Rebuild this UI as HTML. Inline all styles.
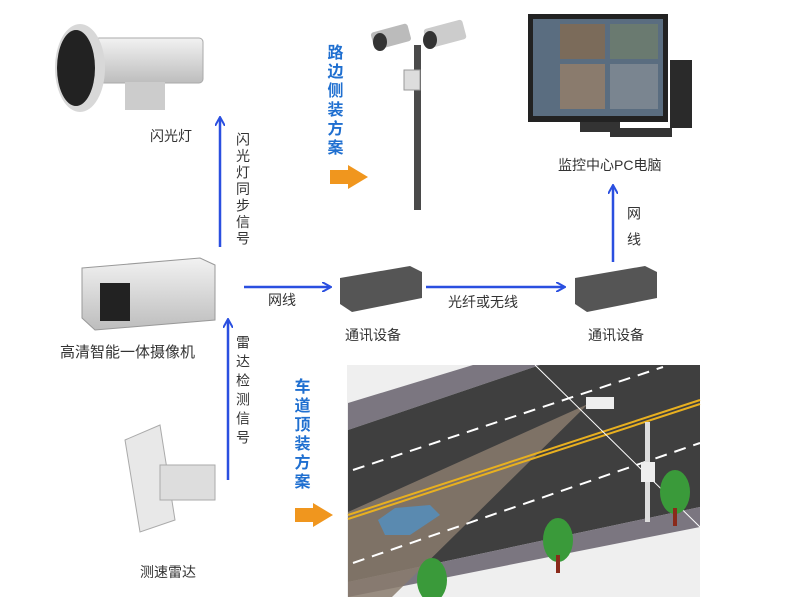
<!DOCTYPE html>
<html><head><meta charset="utf-8"><style>
body{margin:0;background:#fff;}
svg text{font-family:"Liberation Sans","Noto Sans CJK SC",sans-serif;}
</style></head><body>
<svg width="790" height="597" viewBox="0 0 790 597" xmlns="http://www.w3.org/2000/svg">
<defs>
<marker id="ah" markerWidth="10" markerHeight="10" refX="8" refY="5" orient="auto" markerUnits="userSpaceOnUse"><path d="M0,0 L9,5 L0,10" fill="none" stroke="#2a4fe0" stroke-width="2"/></marker>
<linearGradient id="gr" x1="0" y1="0" x2="0" y2="1"><stop offset="0" stop-color="#f2f2f2"/><stop offset="1" stop-color="#bdbdbd"/></linearGradient>
</defs>
<rect width="790" height="597" fill="#fff"/>

<!-- flash light -->
<rect x="95" y="38" width="108" height="45" rx="4" fill="url(#gr)" stroke="#aaa"/>
<rect x="125" y="82" width="40" height="28" fill="#ccc"/>
<ellipse cx="80" cy="68" rx="25" ry="44" fill="#d8d8d8"/>
<ellipse cx="76" cy="68" rx="19" ry="38" fill="#222"/>

<!-- roadside pole -->
<rect x="414" y="45" width="7" height="165" fill="#4a4a4a"/>
<rect x="404" y="70" width="16" height="20" fill="#ddd" stroke="#999"/>
<rect x="372" y="28" width="38" height="18" rx="3" fill="#bbb" transform="rotate(-15 390 37)"/>
<rect x="425" y="24" width="40" height="20" rx="3" fill="#ccc" transform="rotate(-15 445 34)"/>
<ellipse cx="380" cy="42" rx="7" ry="9" fill="#333"/>
<ellipse cx="430" cy="40" rx="7" ry="9" fill="#333"/>

<!-- monitor -->
<rect x="528" y="14" width="140" height="108" fill="#222"/>
<rect x="533" y="19" width="130" height="97" fill="#5a6d80"/>
<rect x="560" y="24" width="45" height="35" fill="#7b6b5a"/><rect x="610" y="24" width="48" height="35" fill="#6a7a70"/>
<rect x="560" y="64" width="45" height="45" fill="#8a7b6d"/><rect x="610" y="64" width="48" height="45" fill="#7a8590"/>
<rect x="580" y="122" width="40" height="10" fill="#333"/>
<rect x="670" y="60" width="22" height="68" fill="#2a2a2a"/>
<rect x="610" y="128" width="62" height="9" fill="#333"/>

<!-- main camera -->
<path d="M82,268 L200,258 L215,265 L215,320 L95,330 L82,318 Z" fill="url(#gr)" stroke="#999"/>
<rect x="100" y="283" width="30" height="38" fill="#222"/>

<!-- comm devices -->
<path d="M340,278 L410,266 L422,272 L422,298 L352,312 L340,304 Z" fill="#555"/>
<path d="M575,278 L645,266 L657,272 L657,298 L587,312 L575,304 Z" fill="#555"/>

<!-- radar -->
<path d="M125,440 L160,425 L175,520 L140,532 Z" fill="#e8e8e8" stroke="#aaa"/>
<rect x="160" y="465" width="55" height="35" fill="#ddd" stroke="#aaa"/>

<!-- road image -->
<g>
<rect x="347" y="365" width="353" height="232" fill="#efefef"/>
<polygon points="348,403 473,365 540,365 348,430" fill="#7b7680"/>
<polygon points="348,430 540,365 700,365 700,507 348,582" fill="#3f3f3f"/>
<polygon points="348,582 700,507 700,527 348,597" fill="#7b7680"/>
<polygon points="588,404 348,512 348,597 392,597" fill="#8a7b6d" opacity="0.85"/>
<line x1="348" y1="515" x2="700" y2="400" stroke="#e8b020" stroke-width="2"/>
<line x1="348" y1="519" x2="700" y2="404" stroke="#e8b020" stroke-width="2"/>
<line x1="353" y1="470" x2="663" y2="367" stroke="#fff" stroke-width="2" stroke-dasharray="12,8"/>
<line x1="353" y1="563" x2="700" y2="443" stroke="#fff" stroke-width="2" stroke-dasharray="12,8"/>
<line x1="535" y1="365" x2="700" y2="527" stroke="#fff" stroke-width="1"/>
<rect x="586" y="397" width="28" height="12" fill="#eee"/>
<rect x="645" y="422" width="5" height="100" fill="#ddd"/>
<rect x="641" y="462" width="14" height="20" fill="#eee"/>
<path d="M378,520 L395,508 L430,505 L440,515 L410,535 L385,535 Z" fill="#5a8ab0"/>
<ellipse cx="558" cy="540" rx="15" ry="22" fill="#3a9a3a"/><rect x="556" y="555" width="4" height="18" fill="#8a2a1a"/>
<ellipse cx="675" cy="492" rx="15" ry="22" fill="#3a9a3a"/><rect x="673" y="508" width="4" height="18" fill="#8a2a1a"/>
<ellipse cx="432" cy="580" rx="15" ry="22" fill="#3a9a3a"/>
</g>

<!-- arrows -->
<g stroke="#2a4fe0" stroke-width="2.5" fill="none" marker-end="url(#ah)">
<line x1="220" y1="247" x2="220" y2="118"/>
<line x1="228" y1="480" x2="228" y2="320"/>
<line x1="244" y1="287" x2="330" y2="287"/>
<line x1="426" y1="287" x2="564" y2="287"/>
<line x1="613" y1="262" x2="613" y2="186"/>
</g>
<polygon points="330,170 348,170 348,165 368,177 348,189 348,184 330,184" fill="#f0961e"/>
<polygon points="295,508 313,508 313,503 333,515 313,527 313,522 295,522" fill="#f0961e"/>

<!-- text -->
<g font-size="14" fill="#333">
<text x="150" y="141">闪光灯</text>
<text x="268" y="305">网线</text>
<text x="448" y="307">光纤或无线</text>
<text x="345" y="340">通讯设备</text>
<text x="588" y="340">通讯设备</text>
<text x="60" y="357" font-size="15">高清智能一体摄像机</text>
<text x="140" y="577">测速雷达</text>
<text x="558" y="170">监控中心PC电脑</text>
<text x="243" y="132" writing-mode="tb" letter-spacing="2.5">闪光灯同步信号</text>
<text x="243" y="335" writing-mode="tb" letter-spacing="5">雷达检测信号</text>
<text x="634" y="206" writing-mode="tb" letter-spacing="12">网线</text>
</g>
<g font-size="16" font-weight="bold" fill="#1f6fd0">
<text x="333" y="44" writing-mode="tb" letter-spacing="3">路边侧装方案</text>
<text x="300" y="378" writing-mode="tb" letter-spacing="3">车道顶装方案</text>
</g>
</svg>
</body></html>
